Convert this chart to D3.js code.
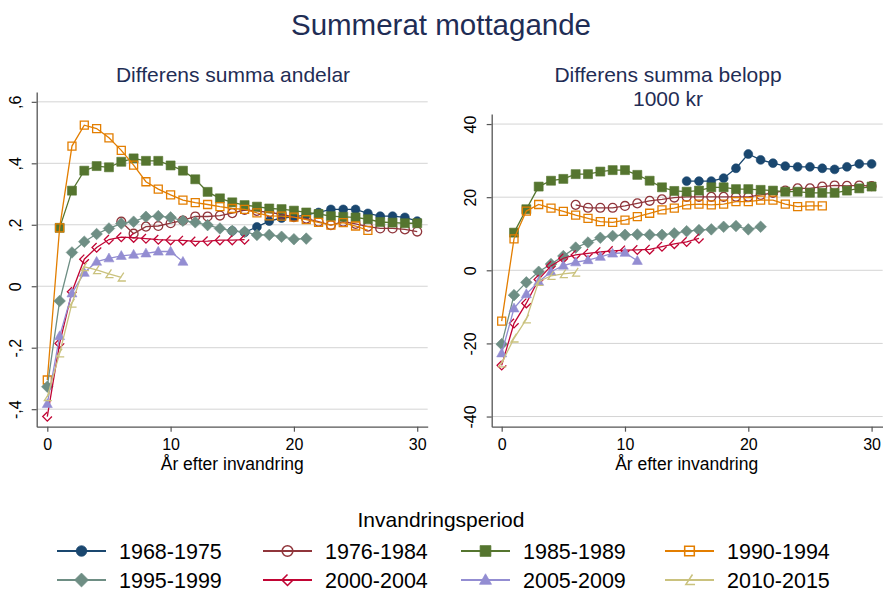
<!DOCTYPE html>
<html>
<head>
<meta charset="utf-8">
<script src="https://cdn.jsdelivr.net/npm/d3@7"></script>
<style>
  body { margin: 0; background: #fff; }
  svg { display: block; font-family: "Liberation Sans", Arial, sans-serif; }
</style>
</head>
<body>
<script>
// invandringsperioder (legend order)
const periods = ['1968-1975', '1976-1984', '1985-1989', '1990-1994',
                 '1995-1999', '2000-2004', '2005-2009', '2010-2015'];

// first year (år efter invandring) of each series
const startYear = [15, 6, 1, 0, 0, 0, 0, 0];

// Differens summa andelar, one array per period
const andel6875 = [0.18, 0.175, 0.193, 0.212, 0.222, 0.226, 0.232, 0.240, 0.250, 0.250, 0.250, 0.237, 0.228, 0.228, 0.224, 0.212];
const andel7684 = [0.210, 0.171, 0.194, 0.196, 0.205, 0.214, 0.227, 0.227, 0.230, 0.238, 0.248, 0.245, 0.240, 0.235, 0.225, 0.220, 0.210, 0.199, 0.210, 0.203, 0.194, 0.188, 0.188, 0.185, 0.178];
const andel8589 = [0.190, 0.311, 0.376, 0.391, 0.387, 0.405, 0.416, 0.408, 0.408, 0.393, 0.376, 0.348, 0.307, 0.286, 0.273, 0.264, 0.259, 0.253, 0.251, 0.246, 0.240, 0.235, 0.228, 0.226, 0.224, 0.218, 0.209, 0.207, 0.205, 0.205];
const andel9094 = [-0.305, 0.190, 0.456, 0.524, 0.513, 0.483, 0.442, 0.394, 0.340, 0.316, 0.297, 0.280, 0.272, 0.266, 0.259, 0.253, 0.250, 0.239, 0.229, 0.228, 0.225, 0.217, 0.208, 0.199, 0.207, 0.196, 0.182];
const andel9599 = [-0.327, -0.048, 0.110, 0.145, 0.170, 0.188, 0.204, 0.210, 0.226, 0.228, 0.224, 0.213, 0.208, 0.199, 0.188, 0.180, 0.177, 0.167, 0.167, 0.161, 0.153, 0.155];
const andel0004 = [-0.424, -0.186, -0.018, 0.088, 0.126, 0.152, 0.160, 0.158, 0.155, 0.152, 0.150, 0.149, 0.146, 0.147, 0.150, 0.150, 0.152];
const andel0509 = [-0.383, -0.162, -0.023, 0.044, 0.080, 0.091, 0.099, 0.103, 0.107, 0.113, 0.113, 0.080];
const andel1015 = [-0.360, -0.218, -0.056, 0.063, 0.053, 0.040, 0.029];

// Differens summa belopp, 1000 kr
const belopp6875 = [24.4, 24.4, 24.4, 25.2, 27.9, 31.8, 30.2, 29.3, 28.5, 28.3, 28.3, 27.9, 27.6, 28.3, 29.1, 29.1];
const belopp7684 = [17.9, 17.1, 17.1, 17.1, 17.6, 18.3, 19.0, 19.4, 19.9, 20.1, 20.1, 20.1, 20.1, 20.1, 20.1, 20.6, 21.2, 21.8, 22.4, 22.4, 22.9, 23.2, 23.1, 23.2, 23.0];
const belopp8589 = [10.3, 16.7, 22.9, 24.5, 25.0, 26.3, 26.3, 27.0, 27.4, 27.4, 26.1, 24.5, 22.7, 21.7, 21.5, 21.8, 22.7, 22.7, 22.2, 22.2, 22.0, 21.8, 21.5, 21.5, 21.2, 21.2, 21.2, 21.8, 22.4, 22.9];
const belopp9094 = [-13.9, 8.6, 16.2, 18.0, 17.0, 16.1, 15.1, 14.2, 13.3, 13.1, 13.7, 14.7, 15.6, 16.5, 17.0, 17.9, 18.1, 17.9, 18.1, 18.8, 18.8, 19.2, 19.2, 18.1, 17.4, 17.6, 17.6];
const belopp9599 = [-20.2, -6.8, -3.3, -0.4, 1.7, 3.9, 6.2, 7.6, 8.9, 9.4, 9.7, 9.8, 9.7, 9.7, 10.1, 10.7, 11.0, 11.2, 11.9, 12.1, 11.2, 11.9];
const belopp0004 = [-26.0, -14.5, -9.0, -2.5, 1.2, 3.3, 4.2, 4.6, 5.0, 5.3, 5.5, 5.6, 5.7, 6.5, 7.2, 7.8, 8.7];
const belopp0509 = [-22.7, -10.4, -6.5, -3.1, -0.4, 1.3, 2.2, 2.8, 3.7, 4.6, 4.8, 2.6];
const belopp1015 = [-25.4, -18.6, -13.4, -3.1, -1.5, -1.0, -0.6];

const xTicks = [0, 10, 20, 30];
const andelTicks = [0.6, 0.4, 0.2, 0, -0.2, -0.4];
const andelTickLabels = [',6', ',4', ',2', '0', '-,2', '-,4'];
const beloppTicks = [40, 20, 0, -20, -40];

const colors = ['#1a476f', '#90353b', '#55752f', '#e37e00', '#6e8e84', '#c10534', '#938dd2', '#cac27e'];
const shapes = ['circle', 'circleHollow', 'square', 'squareHollow', 'diamond', 'chevron', 'triangle', 'angle'];

const W = 883, H = 594;
const svg = d3.select('body').append('svg').attr('width', W).attr('height', H);

const titleColor = '#1f2d55';

svg.append('text').attr('x', 441).attr('y', 35).attr('text-anchor', 'middle')
  .attr('font-size', 29.5).attr('fill', titleColor).text('Summerat mottagande');

// marker path for a shape centred at 0,0
function markerPath(shape) {
  const s = 4.6;
  switch (shape) {
    case 'circle':
    case 'circleHollow':
      return d3.symbol(d3.symbolCircle, 62)();
    case 'square':
      return `M${-4.5},${-4.5}h9v9h-9Z`;
    case 'squareHollow':
      return `M${-4},${-4}h8v8h-8Z`;
    case 'diamond':
      return `M0,${-5.8}L5.8,0L0,5.8L-5.8,0Z`;
    case 'chevron':
      return `M0,${-s}L${-s},0L0,${s}L${s},0`;
    case 'triangle':
      return `M0,${-5.2}L5,3.6L-5,3.6Z`;
    case 'angle':
      return `M2.5,${-s}L${-3},${s * 0.8}L${s},${s * 0.8}`;
  }
}
function styleMarker(sel, i) {
  const hollow = ['circleHollow', 'squareHollow', 'chevron', 'angle'].includes(shapes[i]);
  sel.attr('d', markerPath(shapes[i]))
    .attr('fill', hollow ? 'none' : colors[i])
    .attr('stroke', colors[i])
    .attr('stroke-width', hollow ? 1.3 : 0.6);
}

function drawPanel(cfg) {
  const x = d3.scaleLinear().domain(cfg.xDomain).range([cfg.left, cfg.right]);
  const y = d3.scaleLinear().domain(cfg.yDomain).range([cfg.bottom, cfg.top]);
  const g = svg.append('g');

  // subtitle
  cfg.subtitle.forEach((t, k) => {
    g.append('text').attr('x', cfg.titleX).attr('y', 82 + k * 24).attr('text-anchor', 'middle')
      .attr('font-size', 21).attr('fill', titleColor).text(t);
  });

  // grid
  g.append('g').selectAll('line').data(cfg.yTicks).join('line')
    .attr('x1', cfg.left).attr('x2', cfg.right)
    .attr('y1', d => y(d)).attr('y2', d => y(d))
    .attr('stroke', '#d4d4d4').attr('stroke-width', 1);

  // axes
  const ya = g.append('g').attr('transform', `translate(${cfg.left},0)`)
    .call(d3.axisLeft(y).tickValues(cfg.yTicks).tickFormat((d, i) => cfg.yLabels[i])
      .tickSize(5).tickSizeOuter(0));
  ya.selectAll('text').attr('transform', 'rotate(-90)').attr('x', 0).attr('y', -16)
    .attr('dy', 0).attr('text-anchor', 'middle');
  const xa = g.append('g').attr('transform', `translate(0,${cfg.bottom})`)
    .call(d3.axisBottom(x).tickValues(xTicks).tickSize(5).tickSizeOuter(0));
  [ya, xa].forEach(a => {
    a.selectAll('text').attr('font-size', 16).attr('fill', '#000').attr('font-family', null);
    a.select('.domain').attr('stroke', '#555').attr('stroke-width', 1.3);
    a.selectAll('.tick line').attr('stroke', '#555').attr('stroke-width', 1.2);
  });
  xa.selectAll('text').attr('dy', '0.95em');

  g.append('text').attr('x', (x(0) + x(30)) / 2).attr('y', cfg.bottom + 43)
    .attr('text-anchor', 'middle').attr('font-size', 17.5).text('År efter invandring');

  // series
  cfg.series.forEach((vals, i) => {
    const pts = vals.map((v, k) => [startYear[i] + k, v]);
    const sg = g.append('g');
    sg.append('path').datum(pts)
      .attr('d', d3.line().x(d => x(d[0])).y(d => y(d[1])))
      .attr('fill', 'none').attr('stroke', colors[i]).attr('stroke-width', 1.3);
    sg.selectAll('path.m').data(pts).join('path').attr('class', 'm')
      .attr('transform', d => `translate(${x(d[0])},${y(d[1])})`)
      .call(styleMarker, i);
  });
}

drawPanel({
  left: 36.7, right: 427.7, top: 92, bottom: 426.7,
  xDomain: [-0.86, 30.85], yDomain: [-0.457, 0.632],
  titleX: 233, subtitle: ['Differens summa andelar'],
  yTicks: andelTicks, yLabels: andelTickLabels,
  series: [andel6875, andel7684, andel8589, andel9094, andel9599, andel0004, andel0509, andel1015]
});

drawPanel({
  left: 491.7, right: 882.7, top: 114, bottom: 426.7,
  xDomain: [-0.81, 30.9], yDomain: [-42.78, 42.75],
  titleX: 668, subtitle: ['Differens summa belopp', '1000 kr'],
  yTicks: beloppTicks, yLabels: beloppTicks.map(String),
  series: [belopp6875, belopp7684, belopp8589, belopp9094, belopp9599, belopp0004, belopp0509, belopp1015]
});

// legend
svg.append('text').attr('x', 441).attr('y', 527).attr('text-anchor', 'middle')
  .attr('font-size', 21).text('Invandringsperiod');

const legCols = [57, 263, 461, 665];
const legRows = [551, 580];
const leg = svg.append('g').selectAll('g').data(periods).join('g')
  .attr('transform', (d, i) => `translate(${legCols[i % 4]},${legRows[Math.floor(i / 4)]})`);
leg.append('line').attr('x1', 0).attr('x2', 49).attr('y1', 0).attr('y2', 0)
  .attr('stroke', (d, i) => colors[i]).attr('stroke-width', 1.8);
leg.append('path').attr('transform', 'translate(24.5,0) scale(1.2)')
  .each(function (d, i) { d3.select(this).call(styleMarker, i); });
leg.append('text').attr('x', 62).attr('y', 7.5).attr('font-size', 21.5).text(d => d);
</script>
</body>
</html>
